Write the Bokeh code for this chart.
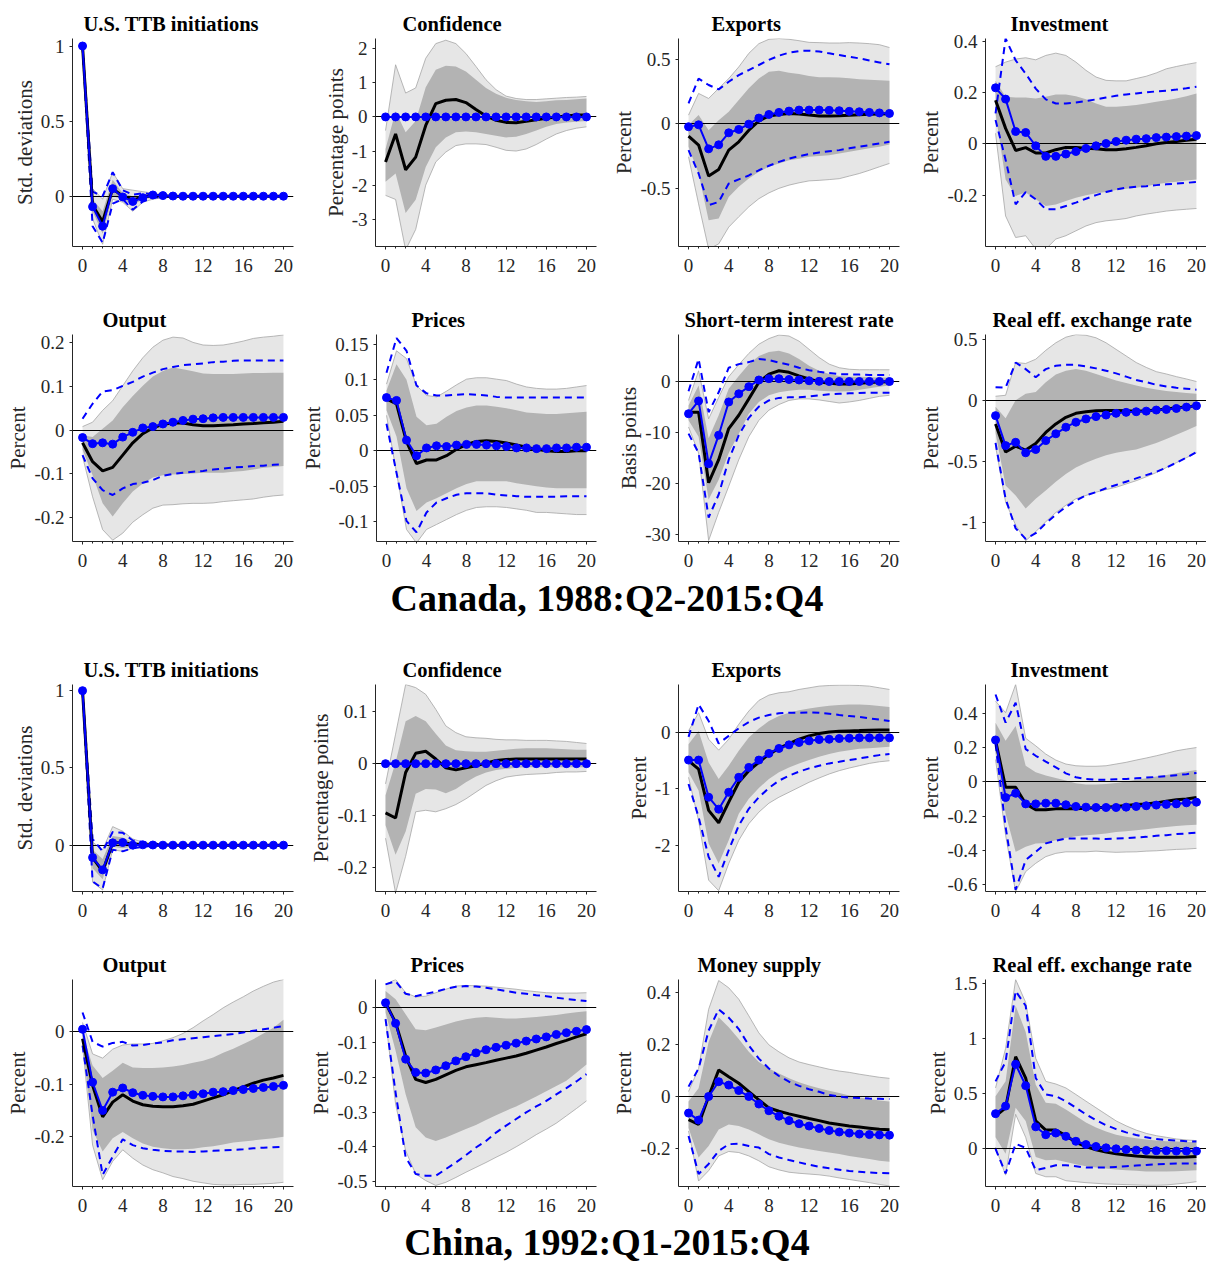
from bokeh.plotting import figure
from bokeh.models import Range1d, FixedTicker, CustomJSTickFormatter, Div
from bokeh.layouts import column, row
from bokeh.embed import file_html
from bokeh.resources import INLINE

# ---------------- data ----------------
QUARTERS = [0, 1, 2, 3, 4, 5, 6, 7, 8, 9, 10, 11, 12, 13, 14, 15, 16, 17, 18, 19, 20]
X_TICKS = [0, 4, 8, 12, 16, 20]

# Canada: U.S. TTB initiations
ca_ttb_med = [1.0, -0.06, -0.17, 0.05, 0.0, -0.025, -0.006, 0.004, 0.002, 0.0, 0.0, 0.0, 0.0, 0.0, 0.0, 0.0, 0.0, 0.0, 0.0, 0.0, 0.0]
ca_ttb_alt = [1.0, -0.07, -0.2, 0.05, -0.005, -0.035, -0.01, 0.008, 0.004, 0.001, 0.0, 0.0, 0.0, 0.0, 0.0, 0.0, 0.0, 0.0, 0.0, 0.0, 0.0]
ca_ttb_dhi = [1.0, 0.03, 0.0, 0.16, 0.04, 0.01, 0.02, 0.012, 0.006, 0.003, 0.001, 0.0, 0.0, 0.0, 0.0, 0.0, 0.0, 0.0, 0.0, 0.0, 0.0]
ca_ttb_dlo = [1.0, -0.2, -0.31, -0.05, -0.02, -0.09, -0.035, -0.01, -0.005, -0.002, 0.0, 0.0, 0.0, 0.0, 0.0, 0.0, 0.0, 0.0, 0.0, 0.0, 0.0]
ca_ttb_hi90 = [1.0, 0.05, -0.02, 0.16, 0.05, 0.04, 0.03, 0.02, 0.01, 0.005, 0.003, 0.002, 0.001, 0.0, 0.0, 0.0, 0.0, 0.0, 0.0, 0.0, 0.0]
ca_ttb_lo90 = [1.0, -0.15, -0.32, -0.02, -0.04, -0.1, -0.04, -0.02, -0.01, -0.005, -0.003, -0.002, -0.001, 0.0, 0.0, 0.0, 0.0, 0.0, 0.0, 0.0, 0.0]
ca_ttb_hi68 = [1.0, -0.02, -0.1, 0.11, 0.02, 0.0, 0.01, 0.01, 0.005, 0.002, 0.001, 0.0, 0.0, 0.0, 0.0, 0.0, 0.0, 0.0, 0.0, 0.0, 0.0]
ca_ttb_lo68 = [1.0, -0.1, -0.25, 0.0, -0.02, -0.06, -0.02, -0.01, -0.005, -0.002, -0.001, 0.0, 0.0, 0.0, 0.0, 0.0, 0.0, 0.0, 0.0, 0.0, 0.0]

# Canada: Confidence
ca_conf_med = [-1.32, -0.5, -1.55, -1.18, -0.25, 0.39, 0.49, 0.51, 0.42, 0.22, 0.03, -0.1, -0.16, -0.17, -0.13, -0.08, -0.04, 0.0, 0.03, 0.06, 0.06]
ca_conf_alt = [0.0, 0.0, 0.0, 0.0, 0.0, 0.0, 0.0, 0.0, 0.0, 0.0, 0.0, 0.0, 0.0, 0.0, 0.0, 0.0, 0.0, 0.0, 0.0, 0.0, 0.0]
ca_conf_dhi = [0.0, 0.0, 0.0, 0.0, 0.0, 0.0, 0.0, 0.0, 0.0, 0.0, 0.0, 0.0, 0.0, 0.0, 0.0, 0.0, 0.0, 0.0, 0.0, 0.0, 0.0]
ca_conf_dlo = [0.0, 0.0, 0.0, 0.0, 0.0, 0.0, 0.0, 0.0, 0.0, 0.0, 0.0, 0.0, 0.0, 0.0, 0.0, 0.0, 0.0, 0.0, 0.0, 0.0, 0.0]
ca_conf_hi90 = [-0.4, 1.53, 0.7, 0.85, 1.72, 2.15, 2.25, 2.15, 1.86, 1.48, 1.09, 0.8, 0.61, 0.54, 0.51, 0.51, 0.53, 0.55, 0.57, 0.58, 0.6]
ca_conf_lo90 = [-2.3, -2.42, -3.9, -3.3, -2.0, -1.32, -1.03, -0.84, -0.79, -0.79, -0.81, -0.89, -0.98, -1.0, -0.94, -0.81, -0.65, -0.5, -0.4, -0.33, -0.29]
ca_conf_hi68 = [-0.94, 0.17, -0.45, -0.12, 0.87, 1.38, 1.5, 1.48, 1.33, 1.09, 0.85, 0.68, 0.56, 0.5, 0.46, 0.44, 0.46, 0.49, 0.5, 0.52, 0.54]
ca_conf_lo68 = [-1.9, -1.66, -2.82, -2.43, -1.47, -0.89, -0.6, -0.45, -0.43, -0.45, -0.5, -0.55, -0.6, -0.58, -0.5, -0.4, -0.29, -0.21, -0.16, -0.14, -0.12]

# Canada: Exports
ca_exp_med = [-0.096, -0.165, -0.405, -0.354, -0.204, -0.14, -0.05, 0.023, 0.06, 0.072, 0.08, 0.075, 0.067, 0.06, 0.06, 0.062, 0.065, 0.07, 0.074, 0.076, 0.078]
ca_exp_alt = [-0.023, -0.008, -0.194, -0.163, -0.07, -0.044, -0.003, 0.044, 0.072, 0.088, 0.098, 0.106, 0.106, 0.106, 0.104, 0.101, 0.096, 0.093, 0.088, 0.084, 0.08]
ca_exp_dhi = [0.158, 0.35, 0.3, 0.266, 0.325, 0.377, 0.416, 0.455, 0.494, 0.527, 0.55, 0.563, 0.566, 0.56, 0.545, 0.532, 0.519, 0.506, 0.49, 0.475, 0.46]
ca_exp_dlo = [-0.204, -0.385, -0.63, -0.605, -0.463, -0.43, -0.4, -0.36, -0.325, -0.295, -0.27, -0.25, -0.235, -0.222, -0.212, -0.204, -0.19, -0.178, -0.165, -0.152, -0.14]
ca_exp_hi90 = [0.067, 0.235, 0.196, 0.274, 0.35, 0.44, 0.545, 0.62, 0.654, 0.66, 0.654, 0.643, 0.63, 0.628, 0.625, 0.625, 0.628, 0.625, 0.62, 0.612, 0.59]
ca_exp_lo90 = [-0.256, -0.62, -0.97, -0.93, -0.8, -0.72, -0.643, -0.58, -0.535, -0.5, -0.475, -0.457, -0.442, -0.438, -0.432, -0.425, -0.405, -0.385, -0.36, -0.333, -0.307]
ca_exp_hi68 = [-0.01, 0.067, -0.05, 0.028, 0.093, 0.183, 0.274, 0.35, 0.403, 0.41, 0.395, 0.385, 0.37, 0.36, 0.36, 0.358, 0.353, 0.345, 0.34, 0.336, 0.333]
ca_exp_lo68 = [-0.178, -0.385, -0.747, -0.733, -0.566, -0.488, -0.424, -0.372, -0.333, -0.307, -0.282, -0.27, -0.256, -0.25, -0.243, -0.23, -0.217, -0.204, -0.19, -0.178, -0.16]

# Canada: Investment
ca_inv_med = [0.17, 0.06, -0.026, -0.015, -0.036, -0.036, -0.023, -0.014, -0.014, -0.017, -0.019, -0.023, -0.023, -0.019, -0.014, -0.008, 0.0, 0.005, 0.009, 0.014, 0.018]
ca_inv_alt = [0.218, 0.174, 0.048, 0.044, -0.008, -0.049, -0.049, -0.04, -0.03, -0.018, -0.008, 0.001, 0.009, 0.014, 0.018, 0.02, 0.024, 0.026, 0.028, 0.03, 0.032]
ca_inv_dhi = [0.118, 0.41, 0.325, 0.273, 0.215, 0.173, 0.157, 0.157, 0.161, 0.166, 0.173, 0.18, 0.187, 0.192, 0.196, 0.2, 0.204, 0.207, 0.211, 0.216, 0.222]
ca_inv_dlo = [0.093, -0.062, -0.236, -0.188, -0.216, -0.255, -0.255, -0.242, -0.229, -0.214, -0.2, -0.188, -0.178, -0.171, -0.167, -0.165, -0.161, -0.158, -0.155, -0.152, -0.149]
ca_inv_hi90 = [0.3, 0.318, 0.33, 0.335, 0.327, 0.344, 0.353, 0.344, 0.318, 0.286, 0.26, 0.247, 0.245, 0.245, 0.254, 0.263, 0.276, 0.292, 0.301, 0.309, 0.316]
ca_inv_lo90 = [0.041, -0.281, -0.365, -0.358, -0.41, -0.41, -0.371, -0.358, -0.339, -0.32, -0.307, -0.3, -0.296, -0.291, -0.281, -0.274, -0.268, -0.262, -0.258, -0.255, -0.252]
ca_inv_hi68 = [0.245, 0.183, 0.18, 0.18, 0.176, 0.183, 0.192, 0.192, 0.185, 0.173, 0.157, 0.144, 0.144, 0.147, 0.151, 0.157, 0.164, 0.17, 0.176, 0.185, 0.196]
ca_inv_lo68 = [0.118, -0.139, -0.203, -0.19, -0.216, -0.242, -0.236, -0.223, -0.21, -0.2, -0.193, -0.188, -0.18, -0.175, -0.171, -0.165, -0.158, -0.152, -0.148, -0.143, -0.139]

# Canada: Output
ca_out_med = [-0.029, -0.072, -0.093, -0.085, -0.057, -0.029, -0.008, 0.005, 0.013, 0.017, 0.016, 0.012, 0.01, 0.01, 0.011, 0.012, 0.014, 0.015, 0.017, 0.018, 0.02]
ca_out_alt = [-0.017, -0.031, -0.029, -0.032, -0.016, -0.005, 0.005, 0.008, 0.014, 0.018, 0.022, 0.025, 0.026, 0.028, 0.029, 0.029, 0.029, 0.029, 0.029, 0.029, 0.029]
ca_out_dhi = [0.026, 0.06, 0.088, 0.091, 0.101, 0.11, 0.122, 0.131, 0.139, 0.144, 0.148, 0.15, 0.152, 0.155, 0.156, 0.158, 0.159, 0.159, 0.159, 0.159, 0.159]
ca_out_dlo = [-0.057, -0.11, -0.137, -0.148, -0.133, -0.123, -0.12, -0.114, -0.104, -0.1, -0.097, -0.095, -0.093, -0.09, -0.088, -0.085, -0.084, -0.082, -0.081, -0.079, -0.078]
ca_out_hi90 = [0.008, 0.018, 0.045, 0.067, 0.101, 0.135, 0.165, 0.189, 0.205, 0.212, 0.21, 0.2, 0.194, 0.193, 0.194, 0.198, 0.203, 0.209, 0.212, 0.214, 0.217]
ca_out_lo90 = [-0.06, -0.152, -0.227, -0.251, -0.235, -0.21, -0.193, -0.178, -0.171, -0.17, -0.168, -0.167, -0.167, -0.166, -0.163, -0.161, -0.159, -0.157, -0.153, -0.15, -0.148]
ca_out_hi68 = [-0.012, -0.016, 0.003, 0.022, 0.052, 0.078, 0.101, 0.122, 0.135, 0.143, 0.139, 0.134, 0.129, 0.128, 0.128, 0.128, 0.129, 0.13, 0.13, 0.131, 0.131]
ca_out_lo68 = [-0.045, -0.103, -0.167, -0.197, -0.167, -0.14, -0.122, -0.108, -0.103, -0.101, -0.1, -0.099, -0.097, -0.097, -0.097, -0.095, -0.093, -0.09, -0.086, -0.084, -0.082]

# Canada: Prices
ca_pri_med = [0.073, 0.066, 0.013, -0.018, -0.013, -0.013, -0.007, 0.002, 0.009, 0.013, 0.014, 0.013, 0.011, 0.008, 0.005, 0.002, 0.0, -0.001, -0.001, 0.0, 0.0]
ca_pri_alt = [0.075, 0.071, 0.015, -0.007, 0.004, 0.007, 0.006, 0.008, 0.009, 0.009, 0.008, 0.007, 0.006, 0.004, 0.004, 0.003, 0.003, 0.004, 0.004, 0.005, 0.005]
ca_pri_dhi = [0.11, 0.159, 0.141, 0.092, 0.081, 0.078, 0.078, 0.079, 0.08, 0.079, 0.078, 0.076, 0.075, 0.075, 0.075, 0.075, 0.075, 0.075, 0.075, 0.075, 0.075]
ca_pri_dlo = [0.038, -0.031, -0.099, -0.115, -0.087, -0.073, -0.067, -0.062, -0.06, -0.06, -0.06, -0.062, -0.063, -0.064, -0.065, -0.065, -0.065, -0.065, -0.064, -0.064, -0.064]
ca_pri_hi90 = [0.094, 0.141, 0.13, 0.092, 0.078, 0.076, 0.084, 0.093, 0.101, 0.103, 0.103, 0.101, 0.099, 0.094, 0.09, 0.088, 0.087, 0.087, 0.088, 0.09, 0.092]
ca_pri_lo90 = [0.05, -0.031, -0.111, -0.13, -0.111, -0.104, -0.097, -0.09, -0.084, -0.08, -0.079, -0.079, -0.08, -0.082, -0.084, -0.087, -0.087, -0.088, -0.089, -0.09, -0.09]
ca_pri_hi68 = [0.085, 0.122, 0.1, 0.048, 0.036, 0.038, 0.048, 0.056, 0.061, 0.064, 0.064, 0.062, 0.06, 0.057, 0.054, 0.053, 0.052, 0.052, 0.053, 0.054, 0.055]
ca_pri_lo68 = [0.057, 0.02, -0.053, -0.085, -0.073, -0.067, -0.06, -0.053, -0.047, -0.043, -0.043, -0.043, -0.043, -0.046, -0.048, -0.05, -0.052, -0.053, -0.053, -0.053, -0.053]

# Canada: Short-term interest rate
ca_rate_med = [-6.1, -6.1, -19.9, -15.4, -9.3, -6.7, -3.5, -0.26, 1.35, 2.0, 1.7, 1.0, 0.4, -0.13, -0.45, -0.58, -0.58, -0.45, -0.3, -0.2, -0.13]
ca_rate_alt = [-6.4, -3.9, -16.2, -10.6, -4.1, -2.5, -1.1, 0.2, 0.45, 0.45, 0.3, 0.2, 0.05, -0.06, -0.1, -0.1, -0.1, -0.1, -0.08, -0.08, -0.1]
ca_rate_dhi = [-2.0, 4.3, -6.1, -2.2, 2.6, 3.3, 3.7, 4.3, 4.1, 3.6, 3.2, 2.6, 2.1, 1.8, 1.55, 1.35, 1.3, 1.25, 1.2, 1.2, 1.2]
ca_rate_dlo = [-10.3, -14.1, -26.7, -22.2, -15.4, -10.6, -7.2, -5.0, -3.8, -3.3, -3.2, -3.2, -3.0, -2.8, -2.6, -2.5, -2.4, -2.35, -2.3, -2.3, -2.3]
ca_rate_hi90 = [-3.8, 2.0, -7.4, -3.2, 0.84, 3.2, 5.4, 7.2, 8.3, 9.0, 8.8, 7.8, 6.2, 4.6, 3.3, 2.6, 2.3, 2.2, 2.2, 2.2, 2.2]
ca_rate_lo90 = [-9.0, -14.1, -31.2, -25.7, -20.6, -15.4, -10.9, -7.7, -5.7, -4.6, -3.8, -3.5, -3.5, -3.7, -4.0, -4.3, -4.1, -3.8, -3.4, -3.0, -2.8]
ca_rate_hi68 = [-4.8, -0.9, -11.2, -6.7, -1.5, 1.0, 3.3, 4.9, 5.7, 5.9, 5.4, 4.3, 3.0, 2.0, 1.35, 1.0, 0.84, 0.84, 0.78, 0.7, 0.7]
ca_rate_lo68 = [-7.7, -10.9, -23.2, -19.3, -14.1, -10.3, -6.4, -4.1, -2.8, -2.2, -1.9, -1.7, -1.7, -1.9, -2.0, -2.05, -2.0, -1.7, -1.4, -1.1, -0.9]

# Canada: Real eff. exchange rate
ca_reer_med = [-0.189, -0.42, -0.372, -0.404, -0.35, -0.259, -0.189, -0.135, -0.102, -0.089, -0.081, -0.078, -0.078, -0.081, -0.084, -0.081, -0.075, -0.067, -0.057, -0.049, -0.04]
ca_reer_alt = [-0.121, -0.367, -0.34, -0.426, -0.399, -0.326, -0.27, -0.216, -0.175, -0.148, -0.129, -0.116, -0.102, -0.094, -0.089, -0.084, -0.075, -0.07, -0.062, -0.051, -0.04]
ca_reer_dhi = [0.113, 0.108, 0.315, 0.261, 0.194, 0.261, 0.288, 0.296, 0.296, 0.283, 0.267, 0.248, 0.226, 0.199, 0.172, 0.154, 0.132, 0.119, 0.108, 0.1, 0.092]
ca_reer_dlo = [-0.345, -0.803, -1.046, -1.132, -1.086, -1.005, -0.933, -0.871, -0.817, -0.776, -0.749, -0.717, -0.69, -0.663, -0.636, -0.609, -0.582, -0.547, -0.507, -0.466, -0.42]
ca_reer_hi90 = [0.038, 0.046, 0.315, 0.307, 0.342, 0.415, 0.477, 0.523, 0.544, 0.539, 0.518, 0.477, 0.423, 0.369, 0.315, 0.275, 0.24, 0.221, 0.199, 0.18, 0.159]
ca_reer_lo90 = [-0.372, -0.83, -1.019, -1.148, -1.073, -0.992, -0.916, -0.857, -0.803, -0.776, -0.749, -0.728, -0.709, -0.682, -0.655, -0.623, -0.588, -0.547, -0.507, -0.466, -0.426]
ca_reer_hi68 = [-0.049, -0.143, 0.005, 0.059, 0.073, 0.154, 0.216, 0.248, 0.261, 0.248, 0.221, 0.194, 0.167, 0.146, 0.127, 0.108, 0.094, 0.081, 0.073, 0.065, 0.059]
ca_reer_lo68 = [-0.264, -0.695, -0.776, -0.884, -0.803, -0.736, -0.663, -0.601, -0.547, -0.507, -0.474, -0.447, -0.426, -0.412, -0.399, -0.372, -0.345, -0.313, -0.278, -0.243, -0.205]

# China: U.S. TTB initiations
cn_ttb_med = [1.0, -0.08, -0.17, 0.015, 0.015, 0.008, 0.004, 0.002, 0.001, 0.0, 0.0, 0.0, 0.0, 0.0, 0.0, 0.0, 0.0, 0.0, 0.0, 0.0, 0.0]
cn_ttb_alt = [1.0, -0.08, -0.16, 0.015, 0.017, 0.0, 0.002, 0.001, 0.0, 0.0, 0.0, 0.0, 0.0, 0.0, 0.0, 0.0, 0.0, 0.0, 0.0, 0.0, 0.0]
cn_ttb_dhi = [1.0, 0.04, -0.04, 0.085, 0.08, 0.03, 0.02, 0.01, 0.005, 0.002, 0.0, 0.0, 0.0, 0.0, 0.0, 0.0, 0.0, 0.0, 0.0, 0.0, 0.0]
cn_ttb_dlo = [1.0, -0.235, -0.28, -0.03, -0.04, -0.02, -0.01, -0.005, -0.002, 0.0, 0.0, 0.0, 0.0, 0.0, 0.0, 0.0, 0.0, 0.0, 0.0, 0.0, 0.0]
cn_ttb_hi90 = [1.0, 0.02, -0.03, 0.12, 0.09, 0.04, 0.02, 0.01, 0.005, 0.002, 0.0, 0.0, 0.0, 0.0, 0.0, 0.0, 0.0, 0.0, 0.0, 0.0, 0.0]
cn_ttb_lo90 = [1.0, -0.24, -0.29, -0.03, -0.04, -0.02, -0.01, -0.005, -0.002, 0.0, 0.0, 0.0, 0.0, 0.0, 0.0, 0.0, 0.0, 0.0, 0.0, 0.0, 0.0]
cn_ttb_hi68 = [1.0, -0.03, -0.09, 0.06, 0.05, 0.02, 0.01, 0.005, 0.002, 0.0, 0.0, 0.0, 0.0, 0.0, 0.0, 0.0, 0.0, 0.0, 0.0, 0.0, 0.0]
cn_ttb_lo68 = [1.0, -0.15, -0.22, -0.01, -0.02, -0.01, -0.005, -0.002, 0.0, 0.0, 0.0, 0.0, 0.0, 0.0, 0.0, 0.0, 0.0, 0.0, 0.0, 0.0, 0.0]

# China: Confidence
cn_conf_med = [-0.095, -0.105, -0.017, 0.02, 0.024, 0.009, -0.008, -0.012, -0.008, -0.004, 0.001, 0.006, 0.008, 0.009, 0.009, 0.009, 0.009, 0.009, 0.009, 0.009, 0.009]
cn_conf_alt = [0.0, 0.0, 0.0, 0.0, 0.0, 0.0, 0.0, 0.0, 0.0, 0.0, 0.0, 0.0, 0.0, 0.0, 0.0, 0.0, 0.0, 0.0, 0.0, 0.0, 0.0]
cn_conf_dhi = [0.0, 0.0, 0.0, 0.0, 0.0, 0.0, 0.0, 0.0, 0.0, 0.0, 0.0, 0.0, 0.0, 0.0, 0.0, 0.0, 0.0, 0.0, 0.0, 0.0, 0.0]
cn_conf_dlo = [0.0, 0.0, 0.0, 0.0, 0.0, 0.0, 0.0, 0.0, 0.0, 0.0, 0.0, 0.0, 0.0, 0.0, 0.0, 0.0, 0.0, 0.0, 0.0, 0.0, 0.0]
cn_conf_hi90 = [-0.039, 0.057, 0.153, 0.147, 0.134, 0.105, 0.073, 0.06, 0.052, 0.05, 0.049, 0.047, 0.046, 0.046, 0.045, 0.045, 0.045, 0.044, 0.043, 0.041, 0.039]
cn_conf_lo90 = [-0.144, -0.25, -0.179, -0.093, -0.09, -0.093, -0.087, -0.079, -0.068, -0.055, -0.042, -0.033, -0.026, -0.023, -0.021, -0.02, -0.019, -0.017, -0.016, -0.016, -0.015]
cn_conf_hi68 = [-0.061, 0.003, 0.082, 0.092, 0.082, 0.058, 0.035, 0.026, 0.024, 0.023, 0.023, 0.025, 0.027, 0.029, 0.03, 0.03, 0.03, 0.029, 0.028, 0.027, 0.027]
cn_conf_lo68 = [-0.119, -0.176, -0.131, -0.058, -0.049, -0.05, -0.057, -0.049, -0.036, -0.025, -0.017, -0.012, -0.01, -0.008, -0.007, -0.007, -0.007, -0.007, -0.007, -0.007, -0.007]

# China: Exports
cn_exp_med = [-0.5, -0.647, -1.38, -1.6, -1.235, -0.882, -0.676, -0.53, -0.382, -0.282, -0.194, -0.118, -0.059, -0.018, 0.012, 0.024, 0.03, 0.035, 0.041, 0.044, 0.047]
cn_exp_alt = [-0.488, -0.488, -1.147, -1.359, -1.059, -0.794, -0.618, -0.488, -0.37, -0.282, -0.218, -0.176, -0.147, -0.124, -0.118, -0.106, -0.1, -0.094, -0.094, -0.094, -0.094]
cn_exp_dhi = [-0.076, 0.5, 0.206, -0.194, -0.059, 0.076, 0.188, 0.265, 0.312, 0.341, 0.353, 0.353, 0.359, 0.353, 0.335, 0.312, 0.294, 0.276, 0.253, 0.229, 0.206]
cn_exp_dlo = [-0.912, -1.5, -2.206, -2.559, -2.088, -1.647, -1.353, -1.147, -0.982, -0.853, -0.765, -0.694, -0.635, -0.588, -0.547, -0.518, -0.488, -0.459, -0.429, -0.4, -0.382]
cn_exp_hi90 = [0.03, 0.353, -0.118, -0.312, -0.118, 0.147, 0.382, 0.57, 0.665, 0.706, 0.724, 0.765, 0.794, 0.824, 0.835, 0.841, 0.841, 0.835, 0.824, 0.794, 0.765]
cn_exp_lo90 = [-0.794, -1.559, -2.618, -2.806, -2.324, -1.912, -1.618, -1.412, -1.253, -1.147, -1.059, -0.971, -0.882, -0.806, -0.735, -0.676, -0.629, -0.588, -0.547, -0.518, -0.5]
cn_exp_hi68 = [-0.206, 0.03, -0.529, -0.824, -0.588, -0.324, -0.088, 0.071, 0.206, 0.294, 0.353, 0.394, 0.429, 0.453, 0.476, 0.488, 0.5, 0.5, 0.488, 0.47, 0.453]
cn_exp_lo68 = [-0.706, -1.029, -1.97, -2.324, -1.912, -1.441, -1.176, -0.982, -0.824, -0.706, -0.618, -0.547, -0.488, -0.429, -0.382, -0.341, -0.312, -0.288, -0.276, -0.265, -0.253]

# China: Investment
cn_inv_med = [0.24, -0.031, -0.031, -0.128, -0.162, -0.162, -0.157, -0.157, -0.157, -0.153, -0.151, -0.147, -0.143, -0.137, -0.131, -0.128, -0.122, -0.112, -0.104, -0.099, -0.091]
cn_inv_alt = [0.244, -0.091, -0.066, -0.128, -0.128, -0.124, -0.124, -0.133, -0.143, -0.147, -0.149, -0.149, -0.149, -0.147, -0.143, -0.139, -0.135, -0.131, -0.128, -0.122, -0.118]
cn_inv_dhi = [0.509, 0.345, 0.461, 0.191, 0.152, 0.118, 0.085, 0.05, 0.027, 0.017, 0.013, 0.013, 0.015, 0.017, 0.021, 0.025, 0.029, 0.033, 0.039, 0.045, 0.052]
cn_inv_dlo = [0.22, -0.262, -0.628, -0.455, -0.407, -0.358, -0.343, -0.33, -0.33, -0.33, -0.33, -0.332, -0.33, -0.328, -0.324, -0.32, -0.314, -0.31, -0.304, -0.3, -0.295]
cn_inv_hi90 = [0.47, 0.403, 0.567, 0.254, 0.21, 0.162, 0.127, 0.104, 0.094, 0.091, 0.091, 0.094, 0.104, 0.114, 0.127, 0.139, 0.152, 0.166, 0.181, 0.191, 0.2]
cn_inv_lo90 = [0.13, -0.31, -0.64, -0.522, -0.474, -0.435, -0.416, -0.407, -0.407, -0.407, -0.403, -0.407, -0.41, -0.408, -0.407, -0.403, -0.401, -0.397, -0.393, -0.391, -0.387]
cn_inv_hi68 = [0.345, 0.239, 0.326, 0.094, 0.056, 0.037, 0.023, 0.008, -0.008, -0.015, -0.015, -0.012, -0.006, 0.002, 0.012, 0.021, 0.031, 0.04, 0.05, 0.06, 0.069]
cn_inv_lo68 = [0.17, -0.185, -0.407, -0.378, -0.358, -0.355, -0.339, -0.326, -0.316, -0.31, -0.306, -0.3, -0.291, -0.287, -0.281, -0.276, -0.268, -0.262, -0.256, -0.252, -0.249]

# China: Output
cn_out_med = [-0.013, -0.102, -0.162, -0.134, -0.12, -0.132, -0.139, -0.142, -0.143, -0.143, -0.141, -0.138, -0.132, -0.126, -0.12, -0.112, -0.105, -0.098, -0.092, -0.088, -0.083]
cn_out_alt = [0.005, -0.096, -0.15, -0.115, -0.107, -0.116, -0.121, -0.123, -0.124, -0.124, -0.122, -0.12, -0.118, -0.115, -0.114, -0.112, -0.11, -0.108, -0.106, -0.104, -0.102]
cn_out_dhi = [0.037, -0.019, -0.028, -0.021, -0.019, -0.026, -0.025, -0.022, -0.02, -0.016, -0.014, -0.012, -0.01, -0.008, -0.006, -0.004, -0.001, 0.002, 0.005, 0.008, 0.011]
cn_out_dlo = [-0.026, -0.159, -0.273, -0.238, -0.205, -0.216, -0.222, -0.225, -0.227, -0.228, -0.228, -0.229, -0.228, -0.227, -0.226, -0.225, -0.224, -0.222, -0.221, -0.22, -0.219]
cn_out_hi90 = [0.018, -0.042, -0.05, -0.033, -0.025, -0.023, -0.023, -0.022, -0.017, -0.011, -0.003, 0.008, 0.021, 0.033, 0.046, 0.057, 0.067, 0.078, 0.087, 0.095, 0.1]
cn_out_lo90 = [-0.026, -0.216, -0.282, -0.247, -0.225, -0.241, -0.254, -0.263, -0.269, -0.276, -0.28, -0.285, -0.288, -0.291, -0.292, -0.292, -0.291, -0.291, -0.29, -0.289, -0.287]
cn_out_hi68 = [-0.004, -0.064, -0.088, -0.074, -0.059, -0.068, -0.069, -0.069, -0.068, -0.066, -0.063, -0.059, -0.055, -0.049, -0.04, -0.032, -0.023, -0.014, -0.003, 0.008, 0.023]
cn_out_lo68 = [-0.021, -0.187, -0.228, -0.203, -0.191, -0.203, -0.213, -0.219, -0.222, -0.224, -0.224, -0.223, -0.22, -0.218, -0.215, -0.211, -0.209, -0.207, -0.205, -0.203, -0.2]

# China: Prices
cn_pri_med = [0.014, -0.043, -0.139, -0.206, -0.215, -0.206, -0.193, -0.18, -0.17, -0.164, -0.158, -0.151, -0.145, -0.139, -0.131, -0.122, -0.113, -0.103, -0.094, -0.084, -0.075]
cn_pri_alt = [0.014, -0.045, -0.148, -0.186, -0.188, -0.179, -0.167, -0.153, -0.141, -0.13, -0.121, -0.114, -0.108, -0.102, -0.096, -0.09, -0.084, -0.077, -0.072, -0.068, -0.063]
cn_pri_dhi = [0.067, 0.076, 0.04, 0.033, 0.04, 0.046, 0.054, 0.06, 0.062, 0.061, 0.057, 0.053, 0.048, 0.043, 0.04, 0.036, 0.033, 0.029, 0.025, 0.022, 0.019]
cn_pri_dlo = [-0.033, -0.244, -0.43, -0.478, -0.483, -0.483, -0.464, -0.445, -0.424, -0.402, -0.383, -0.359, -0.339, -0.32, -0.301, -0.284, -0.268, -0.249, -0.231, -0.212, -0.191]
cn_pri_hi90 = [0.067, 0.081, 0.043, 0.031, 0.033, 0.043, 0.053, 0.062, 0.064, 0.063, 0.062, 0.059, 0.056, 0.053, 0.049, 0.046, 0.043, 0.042, 0.042, 0.042, 0.043]
cn_pri_lo90 = [-0.033, -0.277, -0.411, -0.478, -0.497, -0.511, -0.502, -0.488, -0.473, -0.459, -0.445, -0.43, -0.416, -0.4, -0.383, -0.365, -0.349, -0.332, -0.311, -0.29, -0.268]
cn_pri_hi68 = [0.048, 0.024, -0.019, -0.062, -0.065, -0.057, -0.048, -0.04, -0.033, -0.029, -0.027, -0.029, -0.031, -0.031, -0.029, -0.027, -0.024, -0.021, -0.017, -0.013, -0.01]
cn_pri_lo68 = [-0.014, -0.124, -0.249, -0.344, -0.373, -0.383, -0.373, -0.361, -0.349, -0.337, -0.323, -0.309, -0.296, -0.284, -0.27, -0.255, -0.24, -0.225, -0.21, -0.187, -0.163]

# China: Money supply
cn_m2_med = [-0.089, -0.108, 0.0, 0.102, 0.076, 0.051, 0.019, -0.013, -0.044, -0.057, -0.067, -0.076, -0.085, -0.093, -0.102, -0.108, -0.114, -0.118, -0.122, -0.126, -0.128]
cn_m2_alt = [-0.064, -0.091, 0.0, 0.057, 0.044, 0.023, 0.0, -0.029, -0.055, -0.076, -0.093, -0.105, -0.114, -0.123, -0.131, -0.137, -0.141, -0.145, -0.147, -0.148, -0.149]
cn_m2_dhi = [0.038, 0.108, 0.254, 0.336, 0.304, 0.26, 0.197, 0.146, 0.108, 0.079, 0.057, 0.041, 0.028, 0.018, 0.006, 0.0, -0.004, -0.006, -0.008, -0.009, -0.01]
cn_m2_dlo = [-0.152, -0.299, -0.26, -0.21, -0.184, -0.182, -0.191, -0.197, -0.222, -0.235, -0.245, -0.254, -0.263, -0.271, -0.277, -0.282, -0.287, -0.29, -0.293, -0.295, -0.296]
cn_m2_hi90 = [0.019, 0.108, 0.336, 0.447, 0.419, 0.375, 0.311, 0.245, 0.199, 0.172, 0.149, 0.133, 0.123, 0.114, 0.105, 0.098, 0.093, 0.086, 0.08, 0.074, 0.07]
cn_m2_lo90 = [-0.133, -0.326, -0.286, -0.229, -0.212, -0.216, -0.229, -0.248, -0.271, -0.283, -0.292, -0.296, -0.299, -0.302, -0.307, -0.314, -0.32, -0.326, -0.332, -0.339, -0.345]
cn_m2_hi68 = [-0.019, 0.032, 0.21, 0.305, 0.267, 0.222, 0.172, 0.133, 0.108, 0.089, 0.07, 0.055, 0.042, 0.032, 0.022, 0.013, 0.004, -0.004, -0.01, -0.015, -0.019]
cn_m2_lo68 = [-0.121, -0.235, -0.191, -0.127, -0.108, -0.114, -0.127, -0.146, -0.165, -0.178, -0.188, -0.197, -0.203, -0.21, -0.216, -0.222, -0.229, -0.235, -0.241, -0.248, -0.252]

# China: Real eff. exchange rate
cn_reer_med = [0.294, 0.369, 0.835, 0.64, 0.249, 0.165, 0.165, 0.114, 0.054, 0.015, -0.015, -0.036, -0.051, -0.063, -0.072, -0.078, -0.084, -0.084, -0.084, -0.081, -0.075]
cn_reer_alt = [0.315, 0.384, 0.766, 0.571, 0.195, 0.123, 0.138, 0.108, 0.063, 0.033, 0.015, 0.003, -0.006, -0.012, -0.018, -0.021, -0.024, -0.024, -0.027, -0.027, -0.027]
cn_reer_dhi = [0.61, 0.79, 1.435, 1.3, 0.64, 0.49, 0.474, 0.429, 0.369, 0.309, 0.255, 0.21, 0.174, 0.144, 0.12, 0.099, 0.084, 0.075, 0.069, 0.063, 0.06]
cn_reer_dlo = [-0.006, -0.231, 0.039, 0.003, -0.201, -0.18, -0.156, -0.156, -0.165, -0.177, -0.177, -0.177, -0.171, -0.165, -0.159, -0.153, -0.147, -0.144, -0.141, -0.141, -0.141]
cn_reer_hi90 = [0.55, 0.91, 1.54, 1.33, 0.82, 0.61, 0.586, 0.55, 0.49, 0.429, 0.369, 0.309, 0.249, 0.204, 0.165, 0.135, 0.114, 0.099, 0.084, 0.075, 0.069]
cn_reer_lo90 = [0.009, -0.246, 0.309, 0.099, -0.231, -0.261, -0.261, -0.297, -0.306, -0.315, -0.321, -0.327, -0.33, -0.333, -0.336, -0.339, -0.339, -0.336, -0.327, -0.318, -0.306]
cn_reer_hi68 = [0.474, 0.61, 1.3, 1.06, 0.58, 0.414, 0.405, 0.354, 0.294, 0.234, 0.189, 0.153, 0.123, 0.105, 0.09, 0.078, 0.069, 0.063, 0.06, 0.057, 0.054]
cn_reer_lo68 = [0.099, -0.051, 0.369, 0.249, -0.081, -0.111, -0.105, -0.126, -0.147, -0.165, -0.177, -0.186, -0.195, -0.201, -0.207, -0.213, -0.213, -0.213, -0.21, -0.207, -0.201]

TITLE_CA = "Canada, 1988:Q2-2015:Q4"
TITLE_CN = "China, 1992:Q1-2015:Q4"

# ---------------- panel specifications ----------------
def spec(title, ylabel, yr, yt, pre):
    g = globals()
    return dict(title=title, ylabel=ylabel, yr=yr, yt=yt,
                med=g[pre + "_med"], alt=g[pre + "_alt"], dhi=g[pre + "_dhi"], dlo=g[pre + "_dlo"],
                hi90=g[pre + "_hi90"], lo90=g[pre + "_lo90"], hi68=g[pre + "_hi68"], lo68=g[pre + "_lo68"])

ROWS = [
    [spec("U.S. TTB initiations", "Std. deviations", (-0.335, 1.05), [0, 0.5, 1], "ca_ttb"),
     spec("Confidence", "Percentage points", (-3.8, 2.3), [-3, -2, -1, 0, 1, 2], "ca_conf"),
     spec("Exports", "Percent", (-0.95, 0.66), [-0.5, 0, 0.5], "ca_exp"),
     spec("Investment", "Percent", (-0.4, 0.41), [-0.2, 0, 0.2, 0.4], "ca_inv")],
    [spec("Output", "Percent", (-0.254, 0.218), [-0.2, -0.1, 0, 0.1, 0.2], "ca_out"),
     spec("Prices", "Percent", (-0.128, 0.164), [-0.1, -0.05, 0, 0.05, 0.1, 0.15], "ca_pri"),
     spec("Short-term interest rate", "Basis points", (-31.4, 9.1), [-30, -20, -10, 0], "ca_rate"),
     spec("Real eff. exchange rate", "Percent", (-1.154, 0.545), [-1, -0.5, 0, 0.5], "ca_reer")],
    [spec("U.S. TTB initiations", "Std. deviations", (-0.3, 1.04), [0, 0.5, 1], "cn_ttb"),
     spec("Confidence", "Percentage points", (-0.247, 0.153), [-0.2, -0.1, 0, 0.1], "cn_conf"),
     spec("Exports", "Percent", (-2.82, 0.853), [-2, -1, 0], "cn_exp"),
     spec("Investment", "Percent", (-0.638, 0.567), [-0.6, -0.4, -0.2, 0, 0.2, 0.4], "cn_inv")],
    [spec("Output", "Percent", (-0.295, 0.1), [-0.2, -0.1, 0], "cn_out"),
     spec("Prices", "Percent", (-0.514, 0.081), [-0.5, -0.4, -0.3, -0.2, -0.1, 0], "cn_pri"),
     spec("Money supply", "Percent", (-0.347, 0.451), [-0.2, 0, 0.2, 0.4], "cn_m2"),
     spec("Real eff. exchange rate", "Percent", (-0.35, 1.54), [0, 0.5, 1, 1.5], "cn_reer")],
]

# ---------------- layout / style ----------------
SERIF = "Liberation Serif"
LIGHT = "#e6e6e6"
DARK = "#b3b3b3"
EDGE = "#a6a6a6"
BLUE = "#0000ff"
AXC = "#262626"
X_START, X_END = -1, 21

COL_W = [297, 303, 307, 299]
BORDER_L = [72, 78, 78, 78]
BORDER_R = [4, 4, 8, 0]
FRAME_H = 208
TOP_B = [38, 30, 30, 30]
BOTTOM_B = [57, 34, 57, 34]
TITLE_OFF = [[11, 27, 33, 25], [30, 35, 6, 7], [11, 27, 33, 25], [30, 35, 19, 7]]


def make_panel(s, ri, ci):
    p = figure(width=COL_W[ci], height=TOP_B[ri] + FRAME_H + BOTTOM_B[ri],
               x_range=Range1d(X_START, X_END), y_range=Range1d(*s["yr"]),
               output_backend="svg", toolbar_location=None, title=s["title"],
               min_border_left=BORDER_L[ci], min_border_right=BORDER_R[ci],
               min_border_top=TOP_B[ri], min_border_bottom=BOTTOM_B[ri])
    p.title.text_font = SERIF
    p.title.text_font_size = "20.5px"
    p.title.text_font_style = "bold"
    p.title.text_color = "black"
    p.title.align = "left"
    p.title.offset = TITLE_OFF[ri][ci]
    p.title.standoff = 7
    p.grid.visible = False
    p.outline_line_color = None
    p.background_fill_color = "white"
    p.border_fill_color = "white"

    x = QUARTERS
    p.varea(x=x, y1=s["lo90"], y2=s["hi90"], fill_color=LIGHT)
    p.line(x, s["lo90"], line_color=EDGE, line_width=0.8)
    p.line(x, s["hi90"], line_color=EDGE, line_width=0.8)
    p.varea(x=x, y1=s["lo68"], y2=s["hi68"], fill_color=DARK)
    p.hspan(y=[0], line_color="black", line_width=1)
    p.line(x, s["dlo"], line_color=BLUE, line_width=2, line_dash="7 5")
    p.line(x, s["dhi"], line_color=BLUE, line_width=2, line_dash="7 5")
    p.line(x, s["med"], line_color="black", line_width=3)
    p.line(x, s["alt"], line_color=BLUE, line_width=2)
    p.scatter(x, s["alt"], size=8, color=BLUE)

    xa = p.xaxis[0]
    xa.ticker = FixedTicker(ticks=X_TICKS, minor_ticks=QUARTERS)
    ya = p.yaxis[0]
    ya.ticker = FixedTicker(ticks=s["yt"])
    ya.formatter = CustomJSTickFormatter(code="return String(tick);")
    ya.axis_label = s["ylabel"]
    for ax in (xa, ya):
        ax.axis_line_color = AXC
        ax.axis_line_width = 1
        ax.major_tick_in = 0
        ax.major_tick_out = 3
        ax.major_tick_line_color = AXC
        ax.major_label_text_font = SERIF
        ax.major_label_text_font_size = "19px"
        ax.major_label_text_color = AXC
        ax.axis_label_text_font = SERIF
        ax.axis_label_text_font_size = "21px"
        ax.axis_label_text_font_style = "normal"
        ax.axis_label_text_color = AXC
    xa.minor_tick_in = 0
    xa.minor_tick_out = 2
    xa.minor_tick_line_color = AXC
    xa.major_label_standoff = 9
    ya.minor_tick_line_color = None
    ya.major_label_standoff = 5
    ya.axis_label_standoff = 1
    return p


def title_div(text, height, pad):
    html = ('<div style="width:1198px;margin-left:8px;text-align:center;font-family:\'Liberation Serif\';'
            'font-weight:bold;font-size:38px;line-height:36px;padding-top:%dpx;color:black;">%s</div>' % (pad, text))
    return Div(text=html, width=sum(COL_W), height=height, margin=(0, 0, 0, 0))


rows = [row(*[make_panel(s, ri, ci) for ci, s in enumerate(r)], spacing=0) for ri, r in enumerate(ROWS)]
page = column(rows[0], rows[1], title_div(TITLE_CA, 78, 5), rows[2], rows[3], title_div(TITLE_CN, 36, 4), spacing=0)

open("out.html", "w").write(file_html(page, INLINE))
